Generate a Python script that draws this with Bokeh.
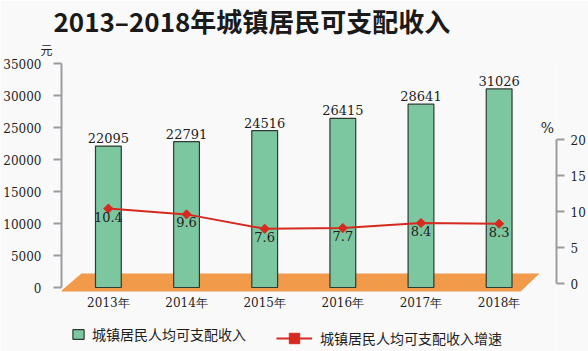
import math
from bokeh.plotting import figure
from bokeh.models import (Range1d, LinearAxis, FixedTicker, Label, Legend,
                          LegendItem, ColumnDataSource, Title)
from bokeh.core.properties import value
from bokeh.embed import file_html
from bokeh.resources import INLINE

# ---------------- data ----------------
years = ["2013年", "2014年", "2015年", "2016年", "2017年", "2018年"]
income = [22095, 22791, 24516, 26415, 28641, 31026]
growth = [10.4, 9.6, 7.6, 7.7, 8.4, 8.3]
left_ticks = [0, 5000, 10000, 15000, 20000, 25000, 30000, 35000]
right_ticks = [0, 5, 10, 15, 20]
title_text = "2013–2018年城镇居民可支配收入"
series_names = ["城镇居民人均可支配收入", "城镇居民人均可支配收入增速"]
left_unit = "元"
right_unit = "%"

# ---------------- styles ----------------
BG = "#f9f9f9"
BAR = "#7cc6a0"
BAR_EDGE = "#2e3a33"
FLOOR = "#f09a4a"
RED = "#d62a20"
AXIS = "#9c9c9c"
TXT = "#1e1e1e"
SERIF = "DejaVu Serif"
CJK = "Noto Sans CJK SC"

# layout geometry (pixels)
H = 351
TOP = 57                    # frame top
L0_PX, L_PER_PX = 287, 224 / 35000   # left axis: zero line, px per unit
R0_PX, R_PER_PX = 283, 144 / 20      # right axis

xs = list(range(len(years)))
src = ColumnDataSource(dict(
    x=xs, income=income, growth=growth,
    income_lbl=[str(v) for v in income],
    growth_lbl=[f"{g:.1f}" for g in growth],
))

x0, x1 = -0.6, 5.734
y0, y1 = -(H - L0_PX) / L_PER_PX, (L0_PX - TOP) / L_PER_PX
r0, r1 = -(H - R0_PX) / R_PER_PX, (R0_PX - TOP) / R_PER_PX
p = figure(width=588, height=H, output_backend="svg", toolbar_location=None,
           x_range=Range1d(x0, x1), y_range=Range1d(y0, y1),
           min_border_left=60, min_border_right=32, min_border_top=TOP,
           min_border_bottom=0, background_fill_color=BG,
           border_fill_color=BG, outline_line_color=None)
p.extra_y_ranges = {"pct": Range1d(r0, r1)}
p.xgrid.visible = False
p.ygrid.visible = False

# titles (above panel): main title, then the left unit closer to the frame
p.title = Title(text=title_text, align="left", offset=-8, standoff=-4,
                vertical_align="top",
                text_font=CJK, text_font_style="bold", text_font_size="26px",
                text_color="#1a1a1a")
p.add_layout(Title(text=left_unit, align="left", offset=-21, standoff=0,
                   text_font=CJK, text_font_style="normal",
                   text_font_size="12px", text_color=TXT), "above")

# pseudo-3D floor (decoration)
fl_lo, fl_hi = -4 / L_PER_PX, 14 / L_PER_PX
p.patch([x0 - 0.013, x0 + 0.255, x1 - 0.217, x1 - 0.459],
        [fl_lo, fl_hi, fl_hi, fl_lo], fill_color=FLOOR, line_color=None)

bars = p.vbar(x="x", top="income", bottom=0, width=0.33, source=src,
              fill_color=BAR, line_color=BAR_EDGE, line_width=1.2)
p.text(x="x", y="income", text="income_lbl", source=src, text_align="center",
       text_baseline="bottom", y_offset=-3, text_font=value(SERIF),
       text_font_size="13px", text_color=TXT)

line = p.line(x="x", y="growth", source=src, y_range_name="pct",
              line_color=RED, line_width=2)
pts = p.scatter(x="x", y="growth", source=src, y_range_name="pct",
                marker="square", angle=math.pi / 4, size=6.5,
                fill_color=RED, line_color=RED)
p.text(x="x", y="growth", text="growth_lbl", source=src, y_range_name="pct",
       text_align="center", text_baseline="top", y_offset=3,
       text_font=value(SERIF), text_font_size="13px", text_color=TXT)

# axes
def style_axis(ax, ticks, bounds, standoff):
    ax.ticker = FixedTicker(ticks=ticks)
    ax.bounds = bounds
    ax.axis_line_color = AXIS
    ax.axis_line_width = 2
    ax.major_tick_line_color = AXIS
    ax.major_tick_line_width = 2
    ax.major_tick_out = 8
    ax.major_tick_in = 0
    ax.minor_tick_line_color = None
    ax.major_label_text_font = SERIF
    ax.major_label_text_font_size = "12px"
    ax.major_label_text_color = TXT
    ax.major_label_standoff = standoff

style_axis(p.yaxis[0], left_ticks, (0, 35000), 12)
ra = LinearAxis(y_range_name="pct")
style_axis(ra, right_ticks, (0, 20), 6)
p.add_layout(ra, "right")

xa = p.xaxis[0]
xa.fixed_location = 0
xa.ticker = FixedTicker(ticks=xs)
xa.major_label_overrides = {i: years[i] for i in xs}
xa.axis_line_color = None
xa.major_tick_line_color = None
xa.minor_tick_line_color = None
xa.major_tick_out = 0
xa.major_label_standoff = 8
xa.major_label_text_font = SERIF
xa.major_label_text_font_size = "12px"
xa.major_label_text_color = TXT

# right unit
p.add_layout(Label(x=486, y=H - 127, x_units="screen", y_units="screen",
                   text=right_unit, text_align="center", text_baseline="middle",
                   text_font=SERIF, text_font_size="14px", text_color=TXT))

# legends
def make_legend(label, renderers, loc, gw, gh, standoff):
    return Legend(items=[LegendItem(label=label, renderers=renderers)],
                  location=loc, glyph_width=gw, glyph_height=gh,
                  label_height=gh, label_standoff=standoff, padding=0,
                  margin=0, spacing=0, border_line_color=None,
                  background_fill_alpha=0, label_text_font=CJK,
                  label_text_font_size="14px", label_text_color=TXT)

p.add_layout(make_legend(series_names[0], [bars], (10, 7), 14, 12, 7))
p.add_layout(make_legend(series_names[1], [line, pts], (215, 0), 36, 26, 8))

open("out.html", "w").write(file_html(p, INLINE))
